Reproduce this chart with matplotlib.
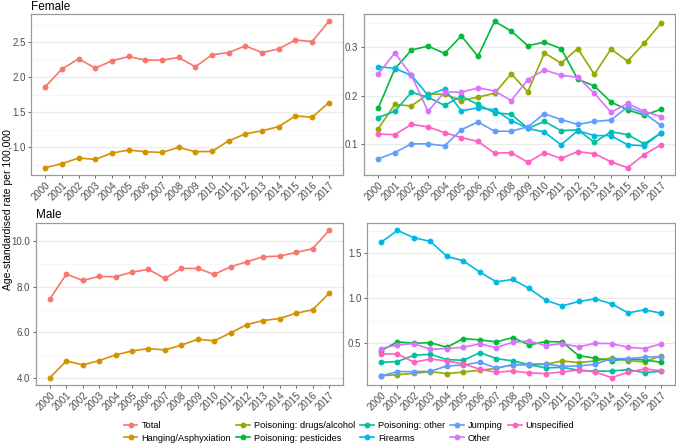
import matplotlib
matplotlib.use('Agg')
import matplotlib.pyplot as plt
from matplotlib.ticker import MultipleLocator, FormatStrFormatter
from matplotlib.lines import Line2D

plt.rcParams['font.family'] = ['Liberation Sans', 'DejaVu Sans']

years = list(range(2000, 2018))

# Female
f_total = [1.864, 2.116, 2.263, 2.130, 2.234, 2.296, 2.244, 2.244, 2.282, 2.149,
           2.320, 2.353, 2.448, 2.353, 2.405, 2.533, 2.509, 2.799]
f_hanging = [0.706, 0.763, 0.844, 0.825, 0.915, 0.958, 0.934, 0.924, 0.996, 0.934,
             0.939, 1.090, 1.190, 1.233, 1.294, 1.446, 1.427, 1.636]
f_drugs = [0.132, 0.182, 0.179, 0.203, 0.203, 0.190, 0.197, 0.205, 0.245, 0.208,
           0.288, 0.267, 0.297, 0.244, 0.296, 0.271, 0.308, 0.349]
f_pesticides = [0.174, 0.255, 0.294, 0.302, 0.287, 0.323, 0.281, 0.353, 0.333, 0.303,
                0.310, 0.297, 0.234, 0.220, 0.187, 0.171, 0.160, 0.172]
f_pois_other = [0.155, 0.168, 0.207, 0.197, 0.180, 0.199, 0.182, 0.165, 0.162, 0.133,
                0.147, 0.128, 0.130, 0.104, 0.126, 0.120, 0.101, 0.123]
f_firearms = [0.260, 0.256, 0.242, 0.201, 0.214, 0.169, 0.175, 0.171, 0.149, 0.133,
              0.125, 0.099, 0.128, 0.118, 0.118, 0.099, 0.097, 0.124]
f_jumping = [0.070, 0.083, 0.101, 0.101, 0.097, 0.130, 0.146, 0.127, 0.127, 0.136,
             0.163, 0.151, 0.141, 0.147, 0.150, 0.177, 0.164, 0.139]
f_other = [0.244, 0.288, 0.242, 0.168, 0.208, 0.207, 0.216, 0.210, 0.190, 0.233,
           0.253, 0.242, 0.238, 0.205, 0.166, 0.184, 0.168, 0.157]
f_unspec = [0.121, 0.120, 0.141, 0.136, 0.124, 0.114, 0.106, 0.082, 0.083, 0.063,
            0.083, 0.071, 0.085, 0.081, 0.064, 0.052, 0.079, 0.099]

# Male
m_total = [7.466, 8.544, 8.267, 8.442, 8.427, 8.631, 8.748, 8.354, 8.791, 8.791,
           8.529, 8.864, 9.083, 9.301, 9.330, 9.490, 9.651, 10.451]
m_hanging = [4.029, 4.757, 4.583, 4.772, 5.020, 5.194, 5.296, 5.238, 5.442, 5.704,
             5.631, 5.981, 6.345, 6.520, 6.607, 6.840, 6.986, 7.699]
m_drugs = [0.139, 0.150, 0.165, 0.184, 0.162, 0.180, 0.199, 0.221, 0.262, 0.258,
           0.266, 0.303, 0.284, 0.303, 0.336, 0.307, 0.292, 0.362]
m_pesticides = [0.418, 0.515, 0.500, 0.507, 0.455, 0.552, 0.537, 0.515, 0.563, 0.481,
                0.519, 0.515, 0.362, 0.333, 0.307, 0.325, 0.314, 0.288]
m_pois_other = [0.288, 0.296, 0.366, 0.377, 0.318, 0.310, 0.396, 0.329, 0.303, 0.262,
                0.225, 0.232, 0.199, 0.188, 0.191, 0.206, 0.173, 0.188]
m_firearms = [1.623, 1.757, 1.675, 1.634, 1.467, 1.418, 1.292, 1.184, 1.210, 1.110,
              0.980, 0.916, 0.965, 0.994, 0.939, 0.838, 0.872, 0.835]
m_jumping = [0.136, 0.184, 0.184, 0.188, 0.247, 0.258, 0.288, 0.225, 0.258, 0.270,
             0.270, 0.243, 0.247, 0.266, 0.329, 0.329, 0.344, 0.351]
m_other = [0.441, 0.481, 0.496, 0.433, 0.441, 0.455, 0.493, 0.452, 0.511, 0.526,
           0.474, 0.496, 0.459, 0.500, 0.496, 0.455, 0.441, 0.493]
m_unspec = [0.381, 0.381, 0.288, 0.325, 0.303, 0.270, 0.210, 0.177, 0.191, 0.169,
            0.162, 0.180, 0.203, 0.180, 0.117, 0.177, 0.214, 0.195]

labels = ['Total', 'Hanging/Asphyxiation', 'Poisoning: drugs/alcohol',
          'Poisoning: pesticides', 'Poisoning: other', 'Firearms',
          'Jumping', 'Other', 'Unspecified']
colors = ['#F8766D', '#D39200', '#93AA00', '#00BA38', '#00C19F',
          '#00B9E3', '#619CFF', '#DB72FB', '#FF61C3']

female = [f_total, f_hanging, f_drugs, f_pesticides, f_pois_other,
          f_firearms, f_jumping, f_other, f_unspec]
male = [m_total, m_hanging, m_drugs, m_pesticides, m_pois_other,
        m_firearms, m_jumping, m_other, m_unspec]

fig = plt.figure(figsize=(6.76, 4.45), dpi=100)
W, H = 676, 445


def add_ax(x0, x1, y0, y1):
    return fig.add_axes([x0 / W, 1 - y1 / H, (x1 - x0) / W, (y1 - y0) / H])


ax_tl = add_ax(31, 343, 14, 175)
ax_tr = add_ax(364, 675, 14, 175)
ax_bl = add_ax(36, 343, 223, 385)
ax_br = add_ax(367, 675, 223, 385)


def style(ax, major, fmt):
    ax.yaxis.set_major_locator(MultipleLocator(major))
    ax.yaxis.set_minor_locator(MultipleLocator(major / 2))
    ax.yaxis.set_major_formatter(FormatStrFormatter(fmt))
    ax.set_xticks(years)
    ax.set_xticklabels([str(y) for y in years], rotation=45, ha='right',
                       rotation_mode='anchor')
    ax.tick_params(axis='both', labelsize=7, colors='#4D4D4D', length=2.5,
                   width=0.6, pad=1.5)
    ax.tick_params(axis='y', which='minor', length=0)
    ax.tick_params(axis='x', pad=1)
    ax.grid(True, axis='y', which='major', color='#EBEBEB', linewidth=0.8)
    ax.grid(True, axis='y', which='minor', color='#F4F4F4', linewidth=0.5)
    ax.set_axisbelow(True)
    for s in ax.spines.values():
        s.set_color('#9A9A9A')
        s.set_linewidth(0.9)


# left panels: Total & Hanging; right panels: the rest
for ax, series, idx in [(ax_tl, female, range(0, 2)), (ax_tr, female, range(2, 9)),
                        (ax_bl, male, range(0, 2)), (ax_br, male, range(2, 9))]:
    for i in idx:
        ax.plot(years, series[i], color=colors[i], linewidth=1.2,
                marker='o', markersize=3.2)

style(ax_tl, 0.5, '%.1f')
style(ax_tr, 0.1, '%.1f')
style(ax_bl, 2.0, '%.1f')
style(ax_br, 0.5, '%.1f')

fig.text(31 / W, 1 - 7 / H, 'Female', fontsize=8.5, va='center', ha='left')
fig.text(36 / W, 1 - 215 / H, 'Male', fontsize=8.5, va='center', ha='left')
fig.text(8 / W, 0.53, 'Age-standardised rate per 100,000', fontsize=7.5,
         rotation=90, va='center', ha='center')

handles = [Line2D([0], [0], color=c, linewidth=1.2, marker='o', markersize=3.2)
           for c in colors]
fig.legend(handles, labels, ncol=5, loc='upper left',
           bbox_to_anchor=(124 / W, 1 - 421 / H), frameon=False, fontsize=6.7,
           handlelength=1.45, handletextpad=0.45, columnspacing=0.55,
           labelspacing=0.4, borderpad=0.0, borderaxespad=0.0)

fig.savefig('out.png', dpi=100)
